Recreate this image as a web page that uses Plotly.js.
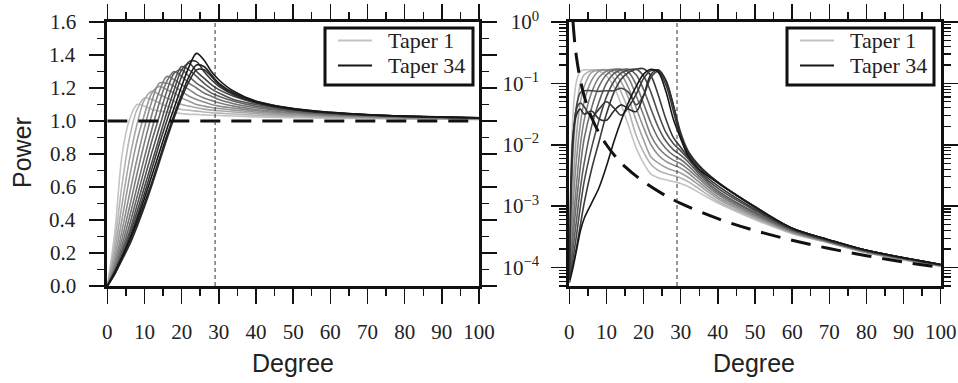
<!DOCTYPE html>
<html><head><meta charset="utf-8">
<script src="https://cdn.plot.ly/plotly-3.0.1.min.js"></script>
<style>html,body{margin:0;padding:0;background:#fff}#chart{width:958px;height:383px}</style>
</head><body><div id="chart"></div>
<script>
// ---------- LEFT PANEL (white input, power) ----------
const leftDegree = [0,2,4,6,8,10,12,14,16,18,20,22,24,26,28,30,34,40,50,60,70,80,100];
const leftT01 = [0,0.32,0.80,1.01,1.10,1.09,1.07,1.06,1.055,1.05,1.045,1.04,1.04,1.037,1.035,1.033,1.03,1.025,1.02,1.017,1.015,1.012,1.01];
const leftT02 = [0,0.26,0.62,0.90,1.07,1.14,1.13,1.11,1.09,1.08,1.07,1.065,1.06,1.055,1.05,1.048,1.042,1.035,1.026,1.02,1.017,1.014,1.01];
const leftT03 = [0,0.21,0.50,0.77,0.98,1.13,1.18,1.16,1.14,1.12,1.10,1.09,1.08,1.072,1.066,1.062,1.055,1.045,1.032,1.025,1.02,1.016,1.012];
const leftT04 = [0,0.17,0.41,0.66,0.88,1.04,1.17,1.21,1.19,1.17,1.14,1.12,1.10,1.09,1.082,1.076,1.066,1.054,1.038,1.029,1.023,1.018,1.013];
const leftT05 = [0,0.14,0.34,0.56,0.77,0.96,1.12,1.23,1.23,1.21,1.18,1.15,1.13,1.115,1.10,1.09,1.078,1.062,1.044,1.033,1.026,1.02,1.014];
const leftT06 = [0,0.12,0.29,0.48,0.68,0.87,1.04,1.18,1.27,1.25,1.22,1.19,1.16,1.14,1.125,1.11,1.09,1.07,1.05,1.037,1.029,1.022,1.015];
const leftT07 = [0,0.10,0.25,0.42,0.60,0.78,0.95,1.11,1.24,1.30,1.27,1.23,1.20,1.17,1.15,1.13,1.105,1.08,1.055,1.04,1.031,1.024,1.016];
const leftT08 = [0,0.09,0.22,0.37,0.54,0.71,0.88,1.03,1.18,1.29,1.31,1.27,1.23,1.20,1.17,1.15,1.12,1.09,1.06,1.043,1.033,1.026,1.017];
const leftT09 = [0,0.08,0.20,0.33,0.49,0.65,0.81,0.96,1.11,1.24,1.33,1.31,1.27,1.23,1.195,1.17,1.13,1.10,1.065,1.047,1.035,1.027,1.018];
const leftT10 = [0,0.075,0.18,0.31,0.45,0.60,0.75,0.90,1.05,1.19,1.31,1.35,1.30,1.26,1.22,1.19,1.15,1.11,1.07,1.05,1.037,1.028,1.018];
const leftT11 = [0,0.07,0.17,0.29,0.42,0.56,0.71,0.86,1.0,1.14,1.27,1.36,1.36,1.30,1.25,1.21,1.16,1.12,1.075,1.052,1.038,1.029,1.019];
const leftT12 = [0,0.075,0.16,0.25,0.36,0.48,0.61,0.75,0.89,1.02,1.14,1.24,1.31,1.31,1.27,1.22,1.16,1.11,1.07,1.049,1.036,1.028,1.019];
const leftT13 = [0,0.08,0.17,0.27,0.38,0.50,0.63,0.77,0.91,1.04,1.16,1.27,1.34,1.33,1.28,1.23,1.17,1.115,1.072,1.05,1.037,1.029,1.019];
const leftT14 = [0,0.085,0.18,0.28,0.40,0.53,0.67,0.81,0.95,1.08,1.21,1.33,1.41,1.37,1.30,1.25,1.18,1.12,1.075,1.053,1.039,1.03,1.02];
const leftInputDegree = [0,100];
const leftInputPower = [1,1];
const leftYTicks = [0,0.2,0.4,0.6,0.8,1.0,1.2,1.4,1.6];

// ---------- RIGHT PANEL (red input), values stored as log10(power) ----------
const rightDegree = [0,1,2,3,4,6,8,10,12,14,16,18,20,22,24,26,28,30,32,35,40,50,60,70,80,100];
const rightLogA01 = [-4.2,-1.5,-0.95,-0.80,-0.78,-0.78,-0.80,-0.88,-1.05,-1.35,-1.7,-2.05,-2.3,-2.48,-2.54,-2.57,-2.6,-2.63,-2.68,-2.78,-2.95,-3.22,-3.45,-3.6,-3.76,-3.98];
const rightLogA02 = [-4.2,-2.2,-1.4,-1.0,-0.86,-0.79,-0.78,-0.80,-0.92,-1.15,-1.45,-1.85,-2.12,-2.32,-2.42,-2.47,-2.5,-2.54,-2.6,-2.72,-2.92,-3.2,-3.44,-3.6,-3.76,-3.98];
const rightLogA03 = [-4.2,-2.7,-1.8,-1.3,-1.05,-0.82,-0.78,-0.78,-0.82,-0.98,-1.25,-1.6,-1.92,-2.2,-2.3,-2.37,-2.42,-2.46,-2.53,-2.66,-2.88,-3.18,-3.43,-3.59,-3.75,-3.97];
const rightLogA04 = [-4.2,-3.0,-2.2,-1.65,-1.3,-0.95,-0.80,-0.78,-0.78,-0.86,-1.08,-1.4,-1.72,-2.0,-2.17,-2.27,-2.33,-2.38,-2.46,-2.61,-2.85,-3.16,-3.42,-3.59,-3.75,-3.97];
const rightLogA05 = [-4.2,-3.3,-2.6,-2.0,-1.6,-1.15,-0.9,-0.8,-0.77,-0.79,-0.92,-1.2,-1.52,-1.85,-2.05,-2.17,-2.25,-2.31,-2.4,-2.56,-2.81,-3.14,-3.41,-3.58,-3.74,-3.97];
const rightLogA06 = [-4.2,-3.5,-2.9,-2.35,-1.9,-1.4,-1.05,-0.86,-0.78,-0.77,-0.82,-1.02,-1.33,-1.65,-1.9,-2.06,-2.17,-2.24,-2.34,-2.52,-2.78,-3.12,-3.4,-3.58,-3.74,-3.96];
const rightLogA07 = [-4.2,-3.7,-3.2,-2.7,-2.3,-1.7,-1.3,-1.0,-0.84,-0.78,-0.77,-0.86,-1.1,-1.42,-1.72,-1.94,-2.08,-2.17,-2.28,-2.48,-2.75,-3.1,-3.39,-3.57,-3.73,-3.96];
const rightLogA08 = [-4.2,-3.85,-3.45,-3.0,-2.6,-2.05,-1.6,-1.22,-0.97,-0.83,-0.78,-0.77,-0.88,-1.15,-1.5,-1.8,-1.98,-2.1,-2.23,-2.45,-2.71,-3.07,-3.38,-3.57,-3.73,-3.96];
const rightLogA09 = [-4.2,-3.95,-3.65,-3.3,-2.95,-2.4,-1.95,-1.5,-1.15,-0.93,-0.82,-0.77,-0.76,-0.88,-1.2,-1.58,-1.88,-2.04,-2.2,-2.42,-2.67,-3.05,-3.37,-3.56,-3.72,-3.95];
const rightLogB01 = [-4.2,-2.0,-1.35,-1.15,-1.12,-1.12,-1.13,-1.12,-1.12,-1.08,-1.15,-1.35,-1.2,-0.9,-0.8,-0.95,-1.35,-1.8,-2.1,-2.34,-2.61,-3.01,-3.36,-3.55,-3.72,-3.95];
const rightLogB02 = [-4.2,-1.9,-1.4,-1.32,-1.38,-1.55,-1.42,-1.3,-1.4,-1.52,-1.38,-1.18,-0.92,-0.79,-0.8,-1.02,-1.45,-1.88,-2.15,-2.36,-2.62,-3.01,-3.36,-3.55,-3.72,-3.95];
const rightLogB03 = [-4.2,-1.85,-1.5,-1.42,-1.5,-1.45,-1.58,-1.6,-1.45,-1.35,-1.42,-1.46,-1.2,-0.85,-0.78,-0.95,-1.35,-1.84,-2.12,-2.35,-2.61,-3.01,-3.36,-3.55,-3.72,-3.95];
const rightLogA10 = [-4.25,-4.0,-3.7,-3.4,-3.2,-2.95,-2.7,-2.35,-1.95,-1.6,-1.3,-1.05,-0.85,-0.77,-0.82,-1.13,-1.58,-1.9,-2.18,-2.4,-2.62,-3.02,-3.36,-3.55,-3.72,-3.95];
const rightInputDegree = [1,1.5,2,3,4,5,6,8,10,12,15,20,25,30,40,50,60,70,80,90,100];
const rightInputPower = [1,0.44,0.25,0.111,0.0625,0.04,0.0278,0.0156,0.01,0.0069,0.0044,0.0025,0.0016,0.00111,0.000625,0.0004,0.000278,0.000204,0.000156,0.000123,0.0001];

const windowDegree = 29;
const yTickVals = [1,0.1,0.01,0.001,0.0001];
const yTickText = ['10<sup>0</sup>','10<sup>−1</sup>','10<sup>−2</sup>','10<sup>−3</sup>','10<sup>−4</sup>'];
const legendLabels = ['Taper 1','Taper 34'];

// ---------- styles ----------
function grey(t){ const v = Math.round(195 - t*173); return 'rgb('+v+','+v+','+v+')'; }
const leftSeries = [leftT01,leftT02,leftT03,leftT04,leftT05,leftT06,leftT07,leftT08,leftT09,leftT10,leftT11,leftT12,leftT13,leftT14];
const leftShade  = [0,0.08,0.16,0.24,0.32,0.40,0.48,0.56,0.64,0.72,0.80,0.88,0.94,1];
const rightSeries = [rightLogA01,rightLogA02,rightLogA03,rightLogA04,rightLogA05,rightLogA06,rightLogA07,rightLogA08,rightLogA09,rightLogB01,rightLogB02,rightLogB03,rightLogA10];
const rightShade  = [0,0.1,0.2,0.3,0.4,0.5,0.6,0.7,0.8,0.72,0.8,0.88,1];

const traces = [];
leftSeries.forEach((s,i)=>{
  traces.push({x:leftDegree, y:s, xaxis:'x', yaxis:'y', mode:'lines',
    line:{color:grey(leftShade[i]), width:1.6, shape:'spline', smoothing:0.9},
    name: i===0?legendLabels[0]:(i===leftSeries.length-1?legendLabels[1]:'taper'), showlegend:false, hoverinfo:'skip'});
});
traces.push({x:leftInputDegree, y:leftInputPower, xaxis:'x', yaxis:'y', mode:'lines',
  line:{color:'#111', width:3, dash:'20px,11px'}, showlegend:false});
traces.push({x:[windowDegree,windowDegree], y:[0,1.6], xaxis:'x', yaxis:'y', mode:'lines',
  line:{color:'#333', width:1, dash:'4px,3px'}, showlegend:false});

rightSeries.forEach((s,i)=>{
  traces.push({x:rightDegree, y:s.map(v=>Math.pow(10,v)), xaxis:'x2', yaxis:'y2', mode:'lines',
    line:{color:grey(rightShade[i]), width:1.6, shape:'spline', smoothing:0.9},
    name: i===0?legendLabels[0]:(i===rightSeries.length-1?legendLabels[1]:'taper'), showlegend:false, hoverinfo:'skip'});
});
traces.push({x:rightInputDegree, y:rightInputPower, xaxis:'x2', yaxis:'y2', mode:'lines',
  line:{color:'#111', width:3, dash:'20px,11px', shape:'spline'}, showlegend:false});
traces.push({x:[windowDegree,windowDegree], y:[0.00005,1], xaxis:'x2', yaxis:'y2', mode:'lines',
  line:{color:'#333', width:1, dash:'4px,3px'}, showlegend:false});

const serif = 'Liberation Serif, Times New Roman, serif';
const sans = 'Liberation Sans, Arial, sans-serif';
const tickFont = {family:serif, size:21, color:'#222'};
function baseAxis(extra){
  return Object.assign({
    showline:true, linewidth:3, linecolor:'#111', mirror:'ticks',
    ticks:'outside', ticklen:15, tickwidth:1.5, tickcolor:'#111',
    showgrid:false, zeroline:false, fixedrange:true,
    tickfont:tickFont, ticklabelstandoff:10
  }, extra);
}
const minorLogVals = [];
[1e-5,1e-4,1e-3,1e-2,1e-1].forEach(d=>{for(let k=2;k<=9;k++) minorLogVals.push(k*d);});

const W=958, H=383;
function px(x){return x/W;} function py(y){return 1-y/H;}
const shapes = [];
const annotations = [
  {text:'Power', xref:'paper', yref:'paper', x:px(22), y:py(153), xanchor:'center', yanchor:'middle', textangle:-90, showarrow:false, font:{family:sans, size:25, color:'#222'}},
  {text:'Degree', xref:'paper', yref:'paper', x:px(292.5), y:py(363), xanchor:'center', yanchor:'middle', showarrow:false, font:{family:sans, size:25, color:'#222'}},
  {text:'Degree', xref:'paper', yref:'paper', x:px(754), y:py(363), xanchor:'center', yanchor:'middle', showarrow:false, font:{family:sans, size:25, color:'#222'}}
];
// left y tick labels placed on the y scale
leftYTicks.forEach(v=>{
  annotations.push({text:v.toFixed(1), xref:'paper', yref:'y', x:px(78), y:v, xanchor:'right', yanchor:'middle',
    showarrow:false, font:tickFont});
});
[[325,473,28,85],[787,934,28,85]].forEach(b=>{
  const [x0,x1,y0,y1]=b;
  shapes.push({type:'rect', xref:'paper', yref:'paper', x0:px(x0), x1:px(x1), y0:py(y1), y1:py(y0), line:{color:'#111', width:3}, fillcolor:'#fff', layer:'above'});
  const rows=[[40.5,grey(0)],[65.5,grey(1)]];
  rows.forEach((r,j)=>{
    shapes.push({type:'line', xref:'paper', yref:'paper', x0:px(x0+13), x1:px(x0+47), y0:py(r[0]), y1:py(r[0]), line:{color:r[1], width:2}, layer:'above'});
    annotations.push({text:legendLabels[j], xref:'paper', yref:'paper', x:px(x0+61), y:py(r[0]), xanchor:'left', yanchor:'middle', showarrow:false, font:{family:serif, size:22, color:'#222'}});
  });
});

const layout = {
  width:W, height:H, margin:{l:0,r:0,t:0,b:0},
  paper_bgcolor:'#fff', plot_bgcolor:'#fff', showlegend:false,
  xaxis: baseAxis({domain:[107.3/W, 479/W], range:[0,100], dtick:10, tick0:0,
    minor:{ticks:'outside', ticklen:7, tickwidth:1.5, tickcolor:'#111', dtick:5, tick0:0}, anchor:'y'}),
  yaxis: baseAxis({domain:[1-286/H, 1-22/H], range:[0,1.6], dtick:0.2, tick0:0, showticklabels:false,
    minor:{ticks:'outside', ticklen:7, tickwidth:1.5, tickcolor:'#111', dtick:0.1, tick0:0}, anchor:'x'}),
  xaxis2: baseAxis({domain:[569.3/W, 940.7/W], range:[0,100], dtick:10, tick0:0,
    minor:{ticks:'outside', ticklen:7, tickwidth:1.5, tickcolor:'#111', dtick:5, tick0:0}, anchor:'y2'}),
  yaxis2: baseAxis({domain:[1-286/H, 1-22/H], type:'log', range:[Math.log10(0.00005), 0], ticklabelstandoff:8,
    tickmode:'array', tickvals:yTickVals, ticktext:yTickText,
    minor:{ticks:'outside', ticklen:7, tickwidth:1.2, tickcolor:'#111', tickmode:'array', tickvals:minorLogVals}, anchor:'x2'}),
  shapes:shapes, annotations:annotations
};
Plotly.newPlot('chart', traces, layout, {displayModeBar:false, staticPlot:true});
</script>
</body></html>
